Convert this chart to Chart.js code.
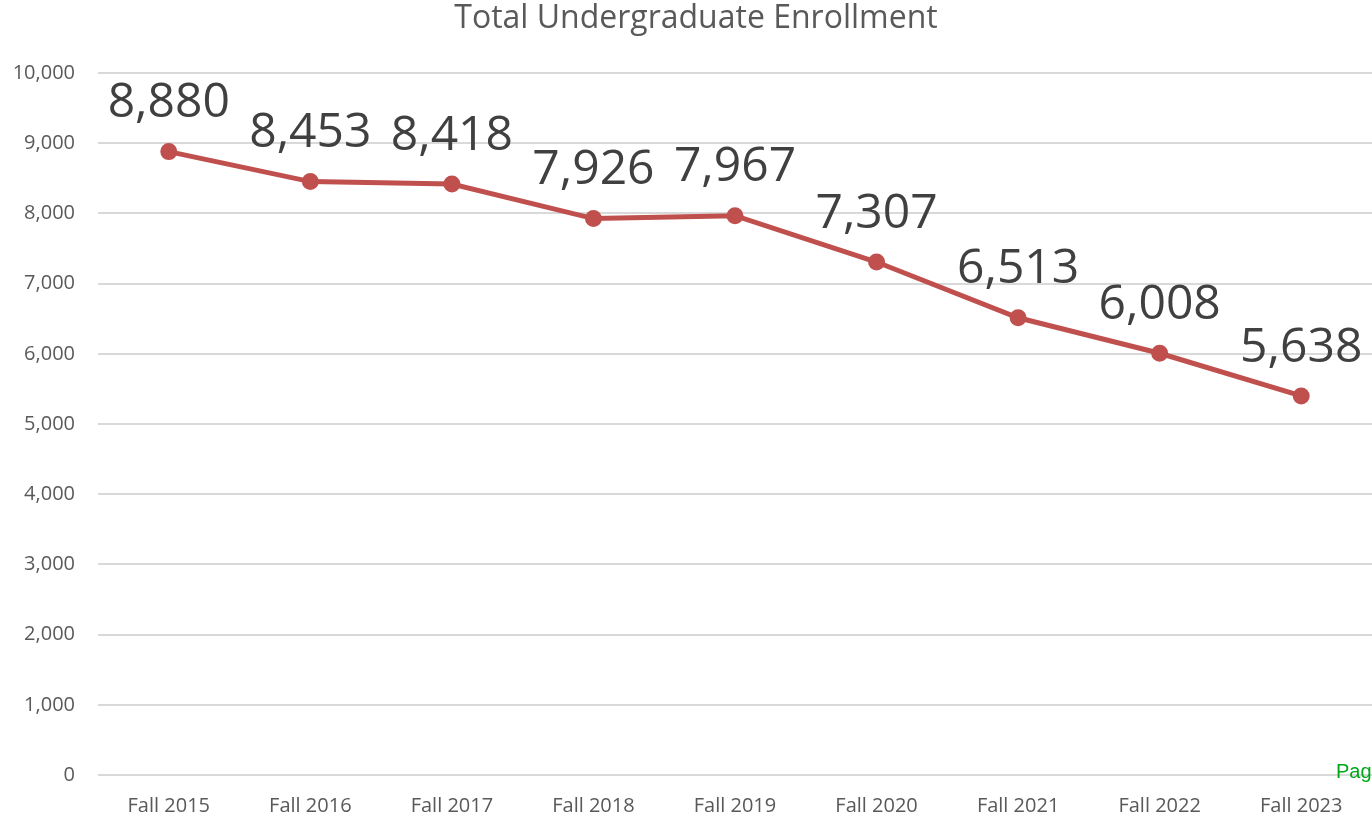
<!DOCTYPE html>
<html>
<head>
<meta charset="utf-8">
<script src="https://cdn.jsdelivr.net/npm/chart.js@4"></script>
<style>
html,body{margin:0;padding:0;background:#fff;}
#wrap{width:1372px;height:817px;position:relative;}
</style>
</head>
<body>
<div id="wrap"><canvas id="c" width="1372" height="817"></canvas></div>
<script>
const chartTitle = "Total Undergraduate Enrollment";
const categories = ["Fall 2015","Fall 2016","Fall 2017","Fall 2018","Fall 2019","Fall 2020","Fall 2021","Fall 2022","Fall 2023"];
const enrollment = [8880, 8453, 8418, 7926, 7967, 7307, 6513, 6008, 5400];
const dataLabels = ["8,880","8,453","8,418","7,926","7,967","7,307","6,513","6,008","5,638"];
const yTicks = [0,1000,2000,3000,4000,5000,6000,7000,8000,9000,10000];
const footerText = "Page";

const FONT = "'Open Sans', sans-serif";

const overlay = {
  id: 'overlay',
  afterDatasetsDraw(chart) {
    const ctx = chart.ctx;
    const meta = chart.getDatasetMeta(0);
    ctx.save();
    ctx.fillStyle = '#404040';
    ctx.font = "48px " + FONT;
    ctx.textAlign = 'center';
    ctx.textBaseline = 'middle';
    meta.data.forEach((pt, i) => {
      ctx.fillText(dataLabels[i], pt.x, pt.y - 48);
    });
    ctx.restore();
  },
  afterDraw(chart) {
    const ctx = chart.ctx;
    ctx.save();
    ctx.fillStyle = '#595959';
    ctx.font = "32px " + FONT;
    ctx.textAlign = 'center';
    ctx.textBaseline = 'middle';
    ctx.fillText(chartTitle, 696, 19);
    ctx.fillStyle = '#00a819';
    ctx.font = "20px 'Liberation Sans', Arial, sans-serif";
    ctx.textAlign = 'left';
    ctx.textBaseline = 'alphabetic';
    ctx.fillText(footerText, 1336, 778);
    ctx.restore();
  }
};

new Chart(document.getElementById('c'), {
  type: 'line',
  data: {
    labels: categories,
    datasets: [{
      data: enrollment,
      borderColor: '#c0504d',
      backgroundColor: '#c0504d',
      borderWidth: 5,
      pointRadius: 6,
      pointHoverRadius: 6,
      pointBackgroundColor: '#c0504d',
      pointBorderColor: '#c0504d',
      tension: 0,
      fill: false
    }]
  },
  options: {
    responsive: false,
    animation: false,
    events: [],
    layout: { autoPadding: false, padding: { top: 73, right: 0, bottom: 0, left: 0 } },
    plugins: { legend: { display: false }, tooltip: { enabled: false }, title: { display: false } },
    scales: {
      x: {
        offset: true,
        grid: { display: false, drawTicks: false },
        border: { display: false },
        ticks: { color: '#595959', font: { family: FONT, size: 20 }, padding: 19, maxRotation: 0, autoSkip: false },
        afterFit(s) { s.height = 42; s.paddingLeft = 0; s.paddingRight = 0; }
      },
      y: {
        min: 0, max: 10000,
        afterBuildTicks(s) { s.ticks = yTicks.map(v => ({ value: v })); },
        grid: { color: '#d9d9d9', lineWidth: 2, drawTicks: false },
        border: { display: false },
        ticks: {
          color: '#595959', font: { family: FONT, size: 20 }, padding: 23,
          callback: v => Number(v).toLocaleString('en-US')
        },
        afterFit(s) { s.width = 98; }
      }
    }
  },
  plugins: [overlay]
});
</script>
</body>
</html>
